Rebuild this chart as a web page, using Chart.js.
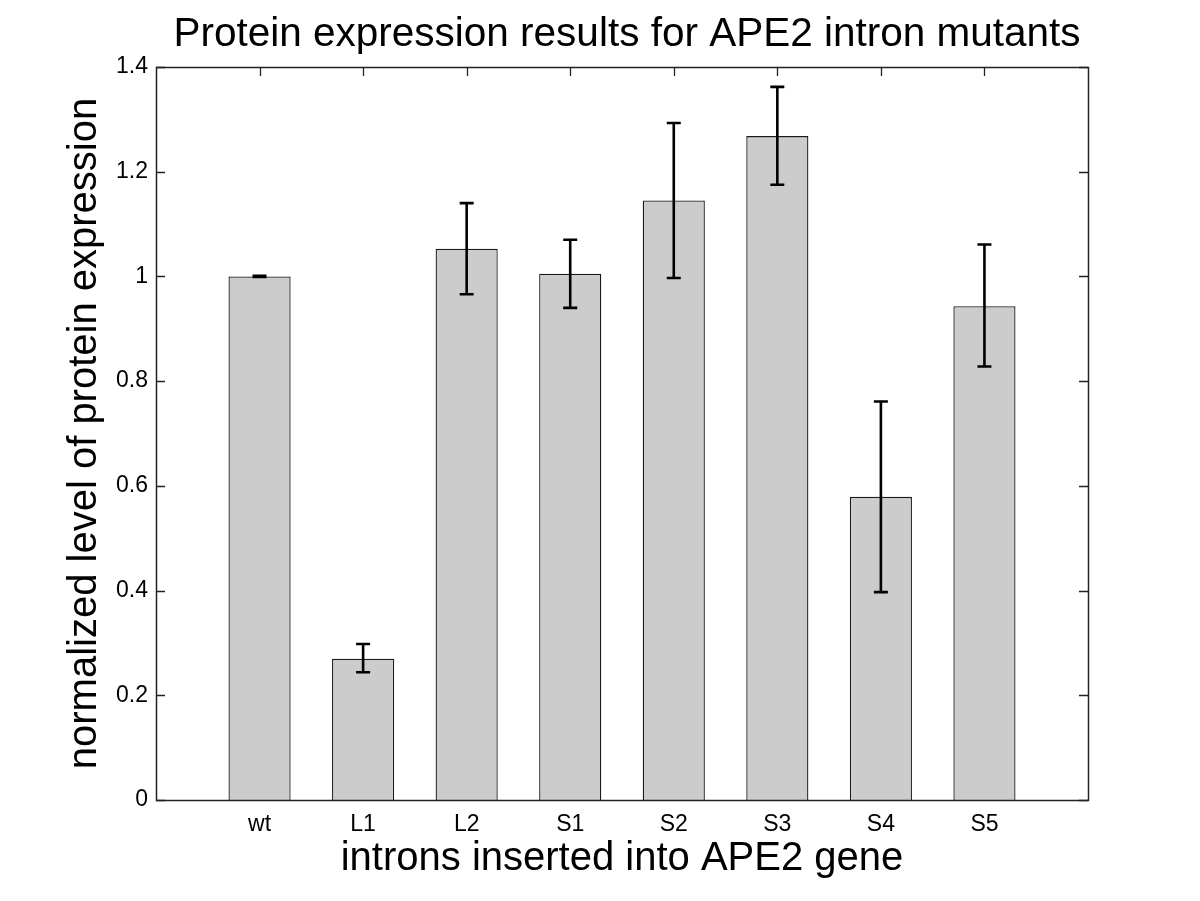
<!DOCTYPE html>
<html>
<head>
<meta charset="utf-8">
<script src="https://cdn.jsdelivr.net/npm/chart.js@4"></script>
<style>
  body { margin: 0; background: #fff; }
</style>
</head>
<body>
<canvas id="expr" width="1200" height="901"></canvas>
<script>
var categories = ['wt', 'L1', 'L2', 'S1', 'S2', 'S3', 'S4', 'S5'];
var means = [1.000, 0.270, 1.053, 1.005, 1.145, 1.268, 0.579, 0.943];
var errLow = [0.999, 0.244, 0.966, 0.940, 0.997, 1.175, 0.397, 0.828];
var errHigh = [1.001, 0.298, 1.140, 1.070, 1.293, 1.362, 0.761, 1.061];
var yTicks = [0, 0.2, 0.4, 0.6, 0.8, 1, 1.2, 1.4];

var titleText = 'Protein expression results for APE2 intron mutants';
var font = '"Liberation Sans", Arial, Helvetica, sans-serif';

Chart.defaults.font.family = font;
Chart.defaults.color = '#000';

var points = means.map(function (v, i) { return { x: i + 1, y: v }; });

// matlab style box, inward ticks, error bars, title
var matlabAxes = {
    id: 'matlabAxes',
    beforeDatasetsDraw: function (chart) {
        var c = chart.ctx, a = chart.chartArea;
        var xs = chart.scales.x, ys = chart.scales.y;
        c.save();
        c.strokeStyle = '#222';
        c.lineWidth = 1.3;
        c.beginPath();
        yTicks.forEach(function (t) {
            var y = Math.round(ys.getPixelForValue(t)) + 0.5;
            c.moveTo(a.left, y); c.lineTo(a.left + 9, y);
            c.moveTo(a.right, y); c.lineTo(a.right - 9, y);
        });
        categories.forEach(function (cat, i) {
            var x = Math.round(xs.getPixelForValue(i + 1)) + 0.5;
            c.moveTo(x, a.top); c.lineTo(x, a.top + 9);
            c.moveTo(x, a.bottom); c.lineTo(x, a.bottom - 9);
        });
        c.stroke();
        c.restore();
    },
    afterDatasetsDraw: function (chart) {
        var c = chart.ctx, a = chart.chartArea;
        var xs = chart.scales.x, ys = chart.scales.y;
        c.save();
        c.strokeStyle = '#000';
        c.lineWidth = 2.6;
        categories.forEach(function (cat, i) {
            var x = xs.getPixelForValue(i + 1);
            var y1 = ys.getPixelForValue(errLow[i]);
            var y2 = ys.getPixelForValue(errHigh[i]);
            c.beginPath();
            c.moveTo(x, y1); c.lineTo(x, y2);
            c.moveTo(x - 7, y1); c.lineTo(x + 7, y1);
            c.moveTo(x - 7, y2); c.lineTo(x + 7, y2);
            c.stroke();
        });
        c.strokeStyle = '#222';
        c.lineWidth = 1.5;
        c.strokeRect(Math.round(a.left) + 0.5, Math.round(a.top) + 0.5,
            Math.round(a.right - a.left), Math.round(a.bottom - a.top));
        c.fillStyle = '#000';
        c.font = '40.5px ' + font;
        c.textAlign = 'center';
        c.textBaseline = 'alphabetic';
        c.fillText(titleText, (a.left + a.right) / 2 + 5, 46);
        c.restore();
    }
};

var ctx = document.getElementById('expr');
var myChart = new Chart(ctx, {
    type: 'bar',
    plugins: [matlabAxes],
    data: {
        datasets: [
            {
                label: 'expression',
                data: points,
                backgroundColor: '#cccccc',
                borderColor: '#1a1a1a',
                borderWidth: 1.3,
                categoryPercentage: 1,
                barPercentage: 0.6,
            }
        ]
    },
    options: {
        responsive: false,
        animation: false,
        layout: {
            padding: { top: 67, right: 112, left: 0, bottom: 0 }
        },
        plugins: {
            legend: { display: false },
            tooltip: { enabled: false },
        },
        scales: {
            x: {
                type: 'linear',
                min: 0,
                max: 9,
                offset: false,
                grid: { display: false, drawTicks: false },
                border: { display: false },
                afterFit: function (s) { s.height = 101; },
                ticks: {
                    stepSize: 1,
                    autoSkip: false,
                    maxRotation: 0,
                    padding: 11,
                    font: { size: 23 },
                    callback: function (v) { return categories[v - 1] || ''; }
                },
                title: {
                    display: true,
                    text: 'introns inserted into APE2 gene',
                    font: { size: 40 },
                    padding: { top: 0, bottom: 18 },
                }
            },
            y: {
                min: 0,
                max: 1.4,
                grid: { display: false, drawTicks: false },
                border: { display: false },
                afterFit: function (s) { s.width = 156; },
                afterBuildTicks: function (s) {
                    s.ticks = yTicks.map(function (t) { return { value: t }; });
                },
                ticks: {
                    padding: 8,
                    font: { size: 23 },
                    callback: function (v) { return String(+v.toFixed(1)); }
                },
                title: {
                    display: true,
                    text: 'normalized level of protein expression',
                    font: { size: 40 },
                    padding: { top: 61, bottom: 0 },
                }
            }
        }
    }
});
</script>
</body>
</html>
